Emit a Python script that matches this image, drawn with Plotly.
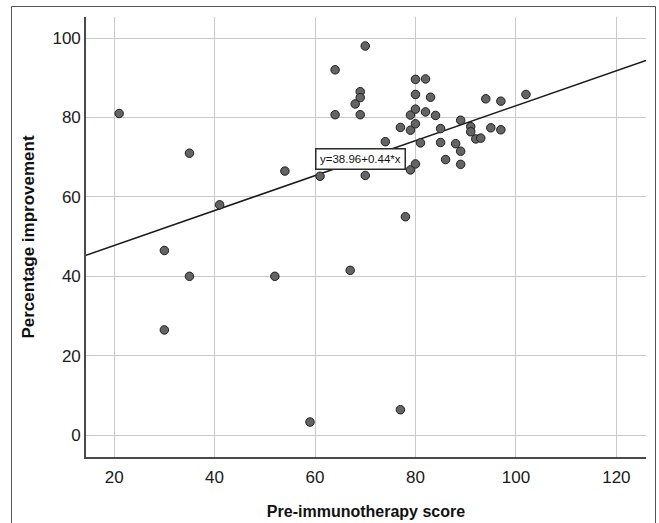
import plotly.graph_objects as go

# Data
pre_score = [21, 30, 30, 35, 35, 41, 52, 54, 59, 61, 64, 64, 67, 68, 69, 69, 69, 70, 70,
             74, 77, 77, 78, 79, 79, 79, 80, 80, 80, 80, 80, 81, 82, 82, 83, 84, 85, 85,
             86, 88, 89, 89, 89, 91, 91, 92, 93, 94, 95, 97, 97, 102]
improvement = [81, 46.5, 26.5, 71, 40, 58, 40, 66.5, 3.3, 65.2, 92, 80.7, 41.5, 83.4, 86.5,
               85.0, 80.7, 98, 65.4, 73.9, 77.5, 6.4, 55, 80.6, 76.8, 66.8, 89.6, 85.8, 82.1,
               78.4, 68.3, 73.6, 89.7, 81.4, 85.1, 80.5, 77.2, 73.7, 69.4, 73.4, 79.3, 71.5,
               68.2, 77.7, 76.4, 74.6, 74.8, 84.7, 77.4, 84.1, 76.9, 85.8]

intercept = 38.96
slope = 0.44
x_range = [14.4, 125.9]
y_range = [-5.5, 105.3]
x_ticks = [20, 40, 60, 80, 100, 120]
y_ticks = [0, 20, 40, 60, 80, 100]

FONT = "Arial, Liberation Sans, sans-serif"

fig = go.Figure()
fig.add_trace(go.Scatter(
    x=x_range, y=[intercept + slope * v for v in x_range],
    mode="lines", line=dict(color="#1a1a1a", width=1.5),
    hoverinfo="skip", showlegend=False, cliponaxis=True))
fig.add_trace(go.Scatter(
    x=pre_score, y=improvement, mode="markers",
    marker=dict(size=8.5, color="#646464", line=dict(color="#1e1e1e", width=1)),
    showlegend=False))

fig.add_annotation(
    x=69, y=69.6, xref="x", yref="y",
    text="y=38.96+0.44*x", showarrow=False,
    font=dict(family=FONT, size=11.5, color="#111"),
    bgcolor="white", bordercolor="#2a2a2a", borderwidth=1.5, borderpad=3.5,
    xanchor="center", yanchor="middle")

# outer frame
L, R, T, B = 86, 646, 17, 457
W, H = R - L, B - T
def px(xp): return (xp - L) / W
def py(yp): return (B - yp) / H
fig.add_shape(type="rect", xref="paper", yref="paper",
              x0=px(11.5), x1=px(655.5), y0=py(530), y1=py(6.5),
              line=dict(color="#555", width=1), fillcolor="rgba(0,0,0,0)", layer="below")

axis_common = dict(
    showgrid=True, gridcolor="#cacaca", gridwidth=1.3,
    showline=True, linecolor="#4a4a4a", linewidth=1.6, mirror=False,
    zeroline=False, ticks="", tickfont=dict(family=FONT, size=17, color="#1a1a1a"),
    automargin=False)

fig.update_layout(
    width=659, height=523,
    margin=dict(l=L, r=659 - R, t=T, b=523 - B),
    paper_bgcolor="white", plot_bgcolor="white",
    xaxis=dict(range=x_range, tickvals=x_ticks, ticklabelstandoff=4,
               title=dict(text="<b>Pre-immunotherapy score</b>", standoff=20,
                          font=dict(family=FONT, size=16, color="#111")),
               **axis_common),
    yaxis=dict(range=y_range, tickvals=y_ticks, ticklabelstandoff=0,
               title=dict(text="<b>Percentage improvement</b>", standoff=13,
                          font=dict(family=FONT, size=17, color="#111")),
               **axis_common),
)

fig.write_html("out.html")
